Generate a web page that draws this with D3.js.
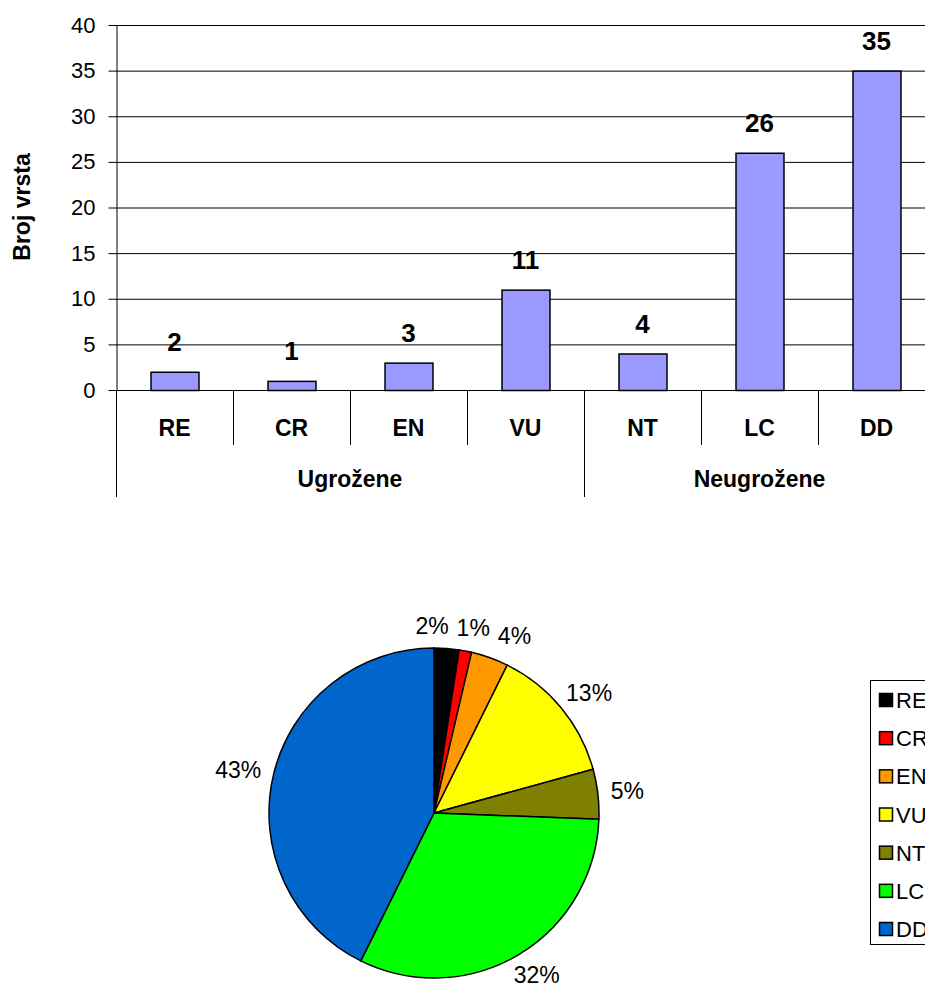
<!DOCTYPE html>
<html><head><meta charset="utf-8">
<script src="https://cdn.jsdelivr.net/npm/d3@7"></script>
<style>body{margin:0;background:#fff}svg{display:block;font-family:"Liberation Sans",Arial,sans-serif}</style>
</head><body>
<svg id="c" width="925" height="989"></svg>
<script>
const categories = ["RE","CR","EN","VU","NT","LC","DD"];
const counts = [2,1,3,11,4,26,35];
const groups = ["Ugrožene","Neugrožene"];
const groupSizes = [4,3];
const yTicks = [0,5,10,15,20,25,30,35,40];
const pieColors = ["#000000","#FF0000","#FF9900","#FFFF00","#808000","#00FF00","#0066CC"];
const yTitle = "Broj vrsta";

const svg = d3.select("#c");
const L=116, R=935, T=25, B=390;
const x = d3.scaleBand().domain(categories).range([L,R]).padding(0);
const y = d3.scaleLinear().domain([0,40]).range([B,T]);

// gridlines
svg.append("g").selectAll("line").data(yTicks).join("line")
  .attr("x1",L).attr("x2",R).attr("y1",d=>y(d)+0.5).attr("y2",d=>y(d)+0.5)
  .attr("stroke","#000").attr("stroke-width",1);

// y axis
const ya = svg.append("g").attr("transform",`translate(${L+0.5},0)`)
  .call(d3.axisLeft(y).tickValues(yTicks).tickSize(8).tickPadding(13).tickSizeOuter(0));
ya.select(".domain").attr("stroke","#000");
ya.selectAll(".tick line").attr("stroke","#000");
ya.selectAll(".tick text").attr("font-size",22).attr("fill","#000").attr("font-family","Liberation Sans, Arial, sans-serif");

// bars
const bw = x.bandwidth()*0.41;
svg.append("g").selectAll("rect").data(categories).join("rect")
  .attr("x",d=>x(d)+(x.bandwidth()-bw)/2+0.5)
  .attr("y",(d,i)=>y(counts[i])+0.5)
  .attr("width",bw)
  .attr("height",(d,i)=>y(0)-y(counts[i]))
  .attr("fill","#9999FF").attr("stroke","#000").attr("stroke-width",1.5);

// value labels
svg.append("g").selectAll("text").data(categories).join("text")
  .attr("x",d=>x(d)+x.bandwidth()/2)
  .attr("y",(d,i)=>y(counts[i])-21)
  .attr("text-anchor","middle").attr("font-size",26).attr("font-weight","bold")
  .text((d,i)=>counts[i]);

// category dividers
const bounds = d3.range(categories.length+1).map(i=>L+i*x.step());
const groupBounds = [0]; groupSizes.forEach((s,i)=>groupBounds.push(groupBounds[i]+s));
svg.append("g").selectAll("line").data(bounds).join("line")
  .attr("x1",d=>Math.round(d)+0.5).attr("x2",d=>Math.round(d)+0.5)
  .attr("y1",B).attr("y2",(d,i)=>groupBounds.includes(i)?497:445)
  .attr("stroke","#000");

svg.append("g").selectAll("text").data(categories).join("text")
  .attr("x",d=>x(d)+x.bandwidth()/2).attr("y",436)
  .attr("text-anchor","middle").attr("font-size",23).attr("font-weight","bold")
  .text(d=>d);

svg.append("g").selectAll("text").data(groups).join("text")
  .attr("x",(d,i)=>(bounds[groupBounds[i]]+bounds[groupBounds[i+1]])/2)
  .attr("y",487)
  .attr("text-anchor","middle").attr("font-size",23).attr("font-weight","bold")
  .text(d=>d);

svg.append("text").attr("transform","translate(30,207) rotate(-90)")
  .attr("text-anchor","middle").attr("font-size",23).attr("font-weight","bold").text(yTitle);

// pie
const cx=434, cy=813, rad=165;
const total = d3.sum(counts);
const pie = d3.pie().sort(null).value(d=>d)(counts);
const arc = d3.arc().innerRadius(0).outerRadius(rad);
const pg = svg.append("g").attr("transform",`translate(${cx},${cy})`);
pg.selectAll("path").data(pie).join("path")
  .attr("d",arc).attr("fill",(d,i)=>pieColors[i]).attr("stroke","#000").attr("stroke-width",1.5);

// label placement: anchor outside the rim, shift by half box, resolve overlaps
const fs = 23, r0 = 178, hh = 10;
const labels = pie.map(d=>{
  const t = Math.round(d.data/total*100)+"%";
  const a = (d.startAngle+d.endAngle)/2;
  return {t, a};
});
const lt = pg.selectAll("text").data(labels).join("text")
  .attr("text-anchor","middle").attr("font-size",fs).text(d=>d.t);
lt.each(function(d){
  d.hw = this.getComputedTextLength()/2;
  d.x = r0*Math.sin(d.a)+d.hw*Math.sin(d.a);
  d.y = -r0*Math.cos(d.a)-hh*Math.cos(d.a);
});
for (let it=0; it<100; it++){
  for (let i=0;i<labels.length;i++) for (let j=i+1;j<labels.length;j++){
    const p=labels[i], q=labels[j];
    const need = p.hw+q.hw+8;
    const dx = q.x-p.x;
    if (Math.abs(dx)<need && Math.abs(q.y-p.y)<2*hh+4){
      const push=(need-Math.abs(dx))/2*(dx>=0?1:-1);
      p.x-=push; q.x+=push;
    }
  }
}
lt.attr("x",d=>d.x).attr("y",d=>d.y+8);

// legend
const lg = svg.append("g");
lg.append("rect").attr("x",870.5).attr("y",680.5).attr("width",80).attr("height",264)
  .attr("fill","#fff").attr("stroke","#000");
const ly = d3.scalePoint().domain(categories).range([700,929]);
lg.selectAll("rect.s").data(categories).join("rect").attr("class","s")
  .attr("x",879.5).attr("y",d=>ly(d)-6.5).attr("width",13).attr("height",13)
  .attr("fill",(d,i)=>pieColors[i]).attr("stroke","#000").attr("stroke-width",1.5);
lg.selectAll("text").data(categories).join("text")
  .attr("x",896).attr("y",d=>ly(d)+8).attr("font-size",22).text(d=>d);
</script>
</body></html>
